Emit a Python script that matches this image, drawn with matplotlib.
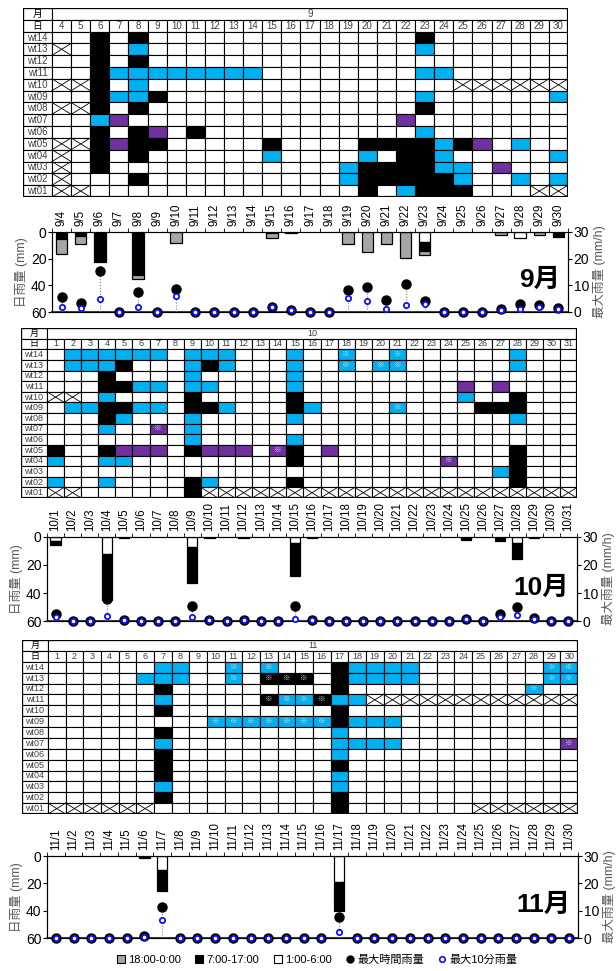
import numpy as np
import matplotlib
matplotlib.use('Agg')
import matplotlib.pyplot as plt
from matplotlib.patches import Rectangle, Patch
from matplotlib.lines import Line2D

plt.rcParams['font.family'] = ['Liberation Sans', 'Noto Sans CJK JP', 'DejaVu Sans']

row_names = ['wt14', 'wt13', 'wt12', 'wt11', 'wt10', 'wt09', 'wt08',
             'wt07', 'wt06', 'wt05', 'wt04', 'wt03', 'wt02', 'wt01']

# grid codes: . none, K black, B cyan, P purple, X no data, lower case = with ※
sep_days = list(range(4, 31))
sep_grid = [
    '..K.K ..... ..... ....K ..... ..',
    'X.K.B ..... ..... ....B ..... ..',
    '..K.K ..... ..... ..... ..... ..',
    '..KBB BBBBB B.... ....B B.... ..',
    'XXK.B ..... ..... ..... .XXXX XX',
    '..KBB K.... ..... ....B ..... .B',
    'XXK.K ..... ..... ....K ..... ..',
    '..BP. ..... ..... ...P. ..... ..',
    '..K.K P.K.. ..... ....B ..... ..',
    'XXKPK K.... .K... .KKKK BKP.B ..',
    'X.K.K ..... .B... .B.KK B.... .B',
    'X.K.. ..... ..... BKKKK BB.P. ..',
    'X...K ..... ..... BKKKK KB..B .B',
    'XX... ..... ..... .K.BK KK... XX',
]

oct_days = list(range(1, 32))
oct_grid = [
    '.BBBB BB.BB B...B ..b.. b.... ..B.. .',
    '.BBBK ...BK B...B ..b.b b.... ..B.. .',
    '...K. ...B. ....B ..... ..... ..... .',
    '...KK BB.BB ....B ..... ....P .P... .',
    'XX.B. ...K. ....K ..... ....B ..K.. .',
    '.BBKK BB.KK B...K B.... b.... KKK.. .',
    '...KB ...B. ....B ..... ..... ..B.. .',
    '...B. .p.B. ..... ..... ..... ..... .',
    '..... ...B. ....B ..... ..... ..... .',
    'K..KP PP.KP PP.pK .P... ..... ..K.. .',
    'B..BB ..... ....K ..... ...p. ..K.. .',
    '..... ..... ..... ..... ..... .BK.. .',
    'B..B. ...KB ....K ..... ..... ..K.. .',
    'XX... ...KX XXXXX XXXXX XXXXX XXXXX X',
]

nov_days = list(range(1, 31))
nov_grid = [
    '..... .BB.. b.b.. .KBBB B.... ...bb',
    '..... BBB.. b.kkk .KBBB B.... ...bb',
    '..... .K... ..... .K... ..... ..b..',
    '..... .B... ..kbb kBBXX XXXXX XXXXX',
    '..... .K... ..... .K... ..... .....',
    '..... ....b bbbbb bKBBB ..... .....',
    '..... .K... ..... .B... ..... .....',
    '..... .B... ..... .BBBB ..... ....p',
    '..... .K... ..... .B... ..... .....',
    '..... .K... ..... .K... ..... .....',
    '..... .K... ..... .B... ..... .....',
    '..... .B... ..... .B... ..... .....',
    '..... .K... ..... .K... ..... .....',
    'XXXXX X.... ..... .K... ....X XXXXX',
]

# daily rain (mm) split by time band, max hourly / max 10-min rain (mm/h)
sep_white = [0, 0, 0, 0, 0.7, 0, 0, 0, 0, 0, 0, 0, 0, 0, 0, 0, 0, 0, 0, 7.5, 0, 0, 0, 0, 4.5, 0, 0]
sep_black = [5.5, 3, 22.5, 0, 31.5, 0, 0, 0, 0, 0, 0, 1, 0, 0, 0, 0, 0, 0, 0, 7, 0, 0, 0, 0, 0, 0, 3.5]
sep_gray = [11, 6, 0, 0, 2.8, 0, 8.5, 0, 0, 0, 0, 3.5, 0.5, 0, 0, 8.8, 15, 9.2, 19.3, 2.5, 0, 0, 0, 2.5, 0, 2, 0]
sep_hourly = [5.6, 3.5, 15.4, 0, 7.5, 0, 8.5, 0, 0, 0, 0, 1.9, 0.6, 0, 0, 8.4, 9.5, 4.6, 10.6, 4.0, 0, 0, 0, 1.0, 3.1, 2.5, 1.5]
sep_tenmin = [1.9, 1.5, 4.8, 0, 1.9, 0, 6.0, 0, 0, 0, 0, 1.9, 0.6, 0, 0, 5.4, 4.0, 1.0, 2.5, 3.0, 0, 0, 0, 0.7, 1.2, 2.0, 1.0]

oct_white = [2.5, 0, 0, 12, 0, 0, 0, 0, 7, 0, 0, 0, 0, 0, 4, 0, 0, 0, 0, 0, 0, 0, 0, 0, 0, 0, 0, 4, 0, 0, 0]
oct_black = [3.5, 0, 0, 33, 0, 0, 0, 0, 26, 0, 0, 0, 0, 0, 24, 0, 0, 0, 0, 0, 0, 0, 0, 0, 2, 0, 3, 11.5, 1, 0, 0]
oct_gray = [0, 0, 0, 0, 0.5, 0, 0, 0, 0, 0.5, 0, 0.5, 0, 0, 0, 0.5, 0, 0, 0, 0, 0, 0, 0, 0, 0, 0, 0, 0, 0, 0, 0]
oct_hourly = [2.4, 0, 0, 7.9, 0.3, 0, 0, 0, 5.2, 0.5, 0, 0.5, 0, 0, 5.2, 0.5, 0, 0, 0, 0, 0, 0, 0, 0, 0.8, 0, 2.4, 5.0, 1.2, 0, 0]
oct_tenmin = [1.4, 0, 0, 1.9, 0.3, 0, 0, 0, 1.4, 0.5, 0, 0.5, 0, 0, 0.8, 0.5, 0, 0, 0, 0, 0, 0, 0, 0, 0.7, 0, 1.4, 2.0, 0.7, 0, 0]

nov_white = [0, 0, 0, 0, 0, 0, 10, 0, 0, 0, 0, 0, 0, 0, 0, 0, 19, 0, 0, 0, 0, 0, 0, 0, 0, 0, 0, 0, 0, 0]
nov_black = [0, 0, 0, 0, 0, 1.5, 15.5, 0, 0, 0, 0, 0, 0, 0, 0, 0, 21, 0, 0, 0, 0, 0, 0, 0, 0, 0, 0, 0, 0, 0]
nov_gray = [0] * 30
nov_hourly = [0, 0, 0, 0, 0, 0.7, 11.5, 0, 0, 0, 0, 0, 0, 0, 0, 0, 7.6, 0, 0, 0, 0, 0, 0, 0, 0, 0, 0, 0, 0, 0]
nov_tenmin = [0, 0, 0, 0, 0, 0.5, 6.5, 0, 0, 0, 0, 0, 0, 0, 0, 0, 2.2, 0, 0, 0, 0, 0, 0, 0, 0, 0, 0, 0, 0, 0]

CYAN = '#00b0f0'
PURPLE = '#7030a0'
GRAY = '#a6a6a6'
fills = {'.': 'white', 'X': 'white', 'K': 'black', 'B': CYAN, 'P': PURPLE}

W, H = 616, 971
fig = plt.figure(figsize=(W / 100, H / 100), dpi=100)


def px(l, t, r, b):
    return [l / W, 1 - b / H, (r - l) / W, (b - t) / H]


def draw_grid(ax, days, month, grid, lw_cells, fs):
    n = len(days)
    ax.set_xlim(-lw_cells, n)
    ax.set_ylim(16, 0)
    ax.axis('off')
    kw = dict(ha='center', va='center', fontsize=fs)
    ax.add_patch(Rectangle((-lw_cells, 0), lw_cells, 1, fc='white', ec='black', lw=0.8))
    ax.text(-lw_cells / 2, 0.5, '月', **kw)
    ax.add_patch(Rectangle((0, 0), n, 1, fc='white', ec='black', lw=0.8))
    ax.text(n / 2, 0.5, str(month), color='#404040', **kw)
    ax.add_patch(Rectangle((-lw_cells, 1), lw_cells, 1, fc='white', ec='black', lw=0.8))
    ax.text(-lw_cells / 2, 1.5, '日', **kw)
    for c, d in enumerate(days):
        ax.add_patch(Rectangle((c, 1), 1, 1, fc='white', ec='black', lw=0.8))
        ax.text(c + 0.5, 1.5, str(d), color='#404040', **kw)
    for r, name in enumerate(row_names):
        y = r + 2
        ax.add_patch(Rectangle((-lw_cells, y), lw_cells, 1, fc='white', ec='black', lw=0.8))
        ax.text(-lw_cells / 2, y + 0.5, name, color='#404040', **kw)
        codes = grid[r].replace(' ', '')
        for c, code in enumerate(codes):
            ax.add_patch(Rectangle((c, y), 1, 1, fc=fills[code.upper()], ec='black', lw=0.8))
            if code == 'X':
                ax.plot([c, c + 1], [y, y + 1], color='black', lw=0.6)
                ax.plot([c, c + 1], [y + 1, y], color='black', lw=0.6)
            elif code.islower():
                ax.text(c + 0.5, y + 0.5, '※', ha='center', va='center',
                        fontsize=fs - 1, color='#e8e8e8')
    ax.add_patch(Rectangle((-lw_cells, 0), lw_cells + n, 16, fc='none', ec='black', lw=1.6))


def draw_rain(ax, prefix, days, white, black, gray, hourly, tenmin, title):
    n = len(days)
    x = np.arange(n)
    white = np.array(white, float)
    black = np.array(black, float)
    gray = np.array(gray, float)
    hourly = np.array(hourly, float)
    tenmin = np.array(tenmin, float)
    for h, b, col in [(white, 0, 'white'), (black, white, 'black'), (gray, white + black, GRAY)]:
        bottom = np.zeros(n) + b
        m = h > 0
        ax.bar(x[m], h[m], bottom=bottom[m], width=0.6, color=col, edgecolor='black', lw=0.9)
    ax.set_xlim(-0.5, n - 0.5)
    ax.set_ylim(60, 0)
    ax.set_yticks([0, 20, 40, 60])
    ax.tick_params(axis='y', labelsize=10, length=3, pad=1)
    ax.xaxis.tick_top()
    ax.set_xticks(x)
    ax.set_xticklabels([f'{prefix}/{d}' for d in days], rotation=90, fontsize=8.3)
    ax.tick_params(axis='x', which='major', length=0, pad=4)
    ax.set_xticks(np.arange(n + 1) - 0.5, minor=True)
    ax.tick_params(axis='x', which='minor', length=3, top=True, bottom=False)
    ax.set_ylabel('日雨量 (mm)', fontsize=9, color='#595959', labelpad=2)
    ax.spines['bottom'].set_color('#404040')
    ax.spines['bottom'].set_linewidth(1.5)

    ax2 = ax.twinx()
    ax2.set_ylim(0, 30)
    ax2.set_yticks([0, 10, 20, 30])
    ax2.tick_params(axis='y', labelsize=10, length=3, pad=1)
    ax2.set_ylabel('最大雨量 (mm/h)', fontsize=9, color='#595959', labelpad=3)
    m = hourly > 0.8
    ax2.vlines(x[m], 0, hourly[m], colors='#7f7f7f', linestyles=':', lw=0.8)
    ax2.plot(x, hourly, 'o', color='black', ms=6.5, clip_on=False, zorder=3)
    ax2.plot(x, tenmin, 'o', mfc='white', mec='#1010ff', mew=1.3, ms=3.8, clip_on=False, zorder=4)
    ax2.text(0.985, 0.4, title, transform=ax2.transAxes, ha='right', va='center',
             fontsize=19, fontweight='bold')


draw_grid(fig.add_axes(px(23, 8, 568, 197)), sep_days, 9, sep_grid, 1.52, 7)
draw_rain(fig.add_axes(px(52, 232, 568, 312)), 9, sep_days, sep_white, sep_black, sep_gray,
          sep_hourly, sep_tenmin, '9月')

draw_grid(fig.add_axes(px(21, 328, 577, 498)), oct_days, 10, oct_grid, 1.52, 6.5)
draw_rain(fig.add_axes(px(47, 537, 577, 621)), 10, oct_days, oct_white, oct_black, oct_gray,
          oct_hourly, oct_tenmin, '10月')

draw_grid(fig.add_axes(px(22, 640, 578, 814)), nov_days, 11, nov_grid, 1.47, 6.5)
draw_rain(fig.add_axes(px(47, 856, 578, 938)), 11, nov_days, nov_white, nov_black, nov_gray,
          nov_hourly, nov_tenmin, '11月')

handles = [
    Patch(fc=GRAY, ec='black', lw=0.8),
    Patch(fc='black', ec='black', lw=0.8),
    Patch(fc='white', ec='black', lw=0.8),
    Line2D([], [], marker='o', ls='', color='black', ms=5),
    Line2D([], [], marker='o', ls='', mfc='white', mec='#1010ff', mew=1.2, ms=4),
]
labels = ['18:00-0:00', '7:00-17:00', '1:00-6:00', '最大時間雨量', '最大10分雨量']
fig.legend(handles, labels, loc='center', bbox_to_anchor=(0.515, 1 - 960 / H), ncol=5,
           frameon=False, fontsize=8, handlelength=0.7, handleheight=0.7,
           handletextpad=0.3, columnspacing=1.3, borderaxespad=0)

fig.savefig('out.png', dpi=100)
